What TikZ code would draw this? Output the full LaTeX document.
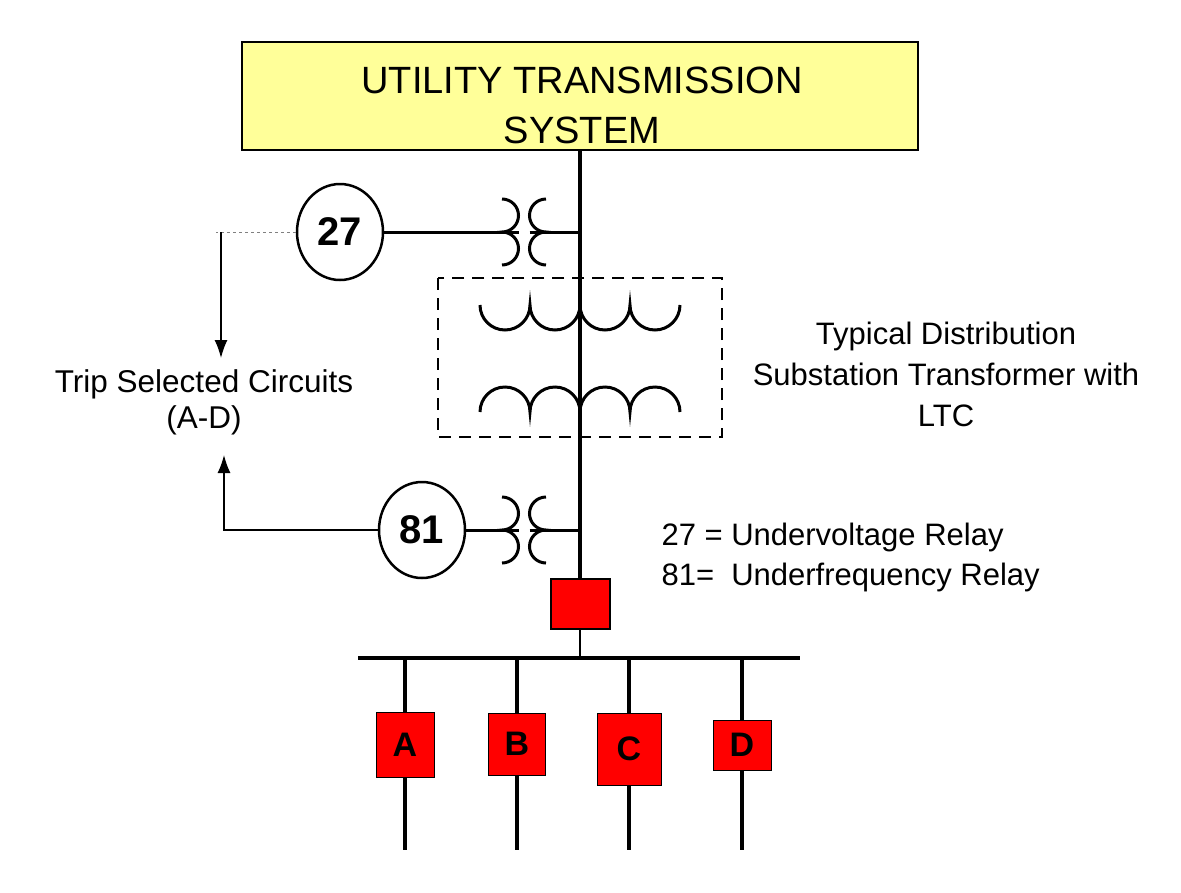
\documentclass[tikz,border=0pt]{standalone}
\usepackage{fontspec}
\setmainfont{Liberation Sans}
\usetikzlibrary{shapes.geometric,arrows.meta}
\begin{document}
\begin{tikzpicture}[x=1pt,y=-1pt,
  thick line/.style={line width=3.5pt},
  relay/.style={draw,line width=2.5pt,ellipse,minimum width=86pt,minimum height=96pt,inner sep=0pt,font=\fontsize{40}{40}\selectfont\bfseries},
  brk/.style={draw,line width=2pt,fill=red,inner sep=0pt},
  lbl/.style={font=\fontsize{31.5}{36}\selectfont,align=center},
  coil/.style={line width=3pt}]
\path[use as bounding box] (0,0) rectangle (1181,892);
\node[draw,line width=1.5pt,fill={rgb,255:red,255;green,255;blue,153},minimum width=676pt,minimum height=108pt] (uts) at (580,96) {};
\node[align=center,font=\fontsize{38}{50}\selectfont] (utst) at (582,105) {UTILITY TRANSMISSION\\SYSTEM};
% dashed box
\draw[line width=2pt,dash pattern=on 12pt off 8pt] (438,278) rectangle (722,437);
% main line
\coordinate (brtop) at (580,578);
\draw[thick line] (uts.south) -- (brtop);
% transformer coils
\draw[coil] (480,305) arc[start angle=180,end angle=0,radius=25] arc[start angle=180,end angle=0,radius=25] arc[start angle=180,end angle=0,radius=25] arc[start angle=180,end angle=0,radius=25];
\draw[coil] (480,412) arc[start angle=180,end angle=360,radius=25] arc[start angle=180,end angle=360,radius=25] arc[start angle=180,end angle=360,radius=25] arc[start angle=180,end angle=360,radius=25];
% relays
\node[relay] (r27) at (340,232) {27};
\node[relay] (r81) at (422,530) {81};
% CTs
\foreach \y/\r in {232/r27,530/r81}{
  \draw[coil] (502,\y-33) arc[start angle=-90,end angle=90,radius=16.5] arc[start angle=-90,end angle=90,radius=16.5];
  \draw[coil] (546,\y-33) arc[start angle=270,end angle=90,radius=16.5] arc[start angle=270,end angle=90,radius=16.5];
  \draw[line width=3pt] (\r.east) -- (518.5,\y);
  \draw[line width=3pt] (529.5,\y) -- (580,\y);
}
% trip arrows
\coordinate (c27) at (216,232);
\coordinate (a27) at (221,232);
\coordinate (t1) at (221,358);
\coordinate (c81) at (224,530);
\coordinate (t2) at (224,455);
\draw[gray,dashed,line width=0.8pt] (r27.west) -- (c27);
\draw[line width=1.5pt,-{Latex[length=18pt,width=13pt]}] (a27) -- (t1);
\draw[line width=1.5pt,-{Latex[length=18pt,width=13pt]}] (r81.west) -- (c81) -- (t2);
\node[lbl] (trip) at (204,402) {Trip Selected Circuits\\(A-D)};
\node[lbl,font=\fontsize{31}{41}\selectfont] (ttl) at (946,374) {Typical Distribution\\Substation Transformer with\\LTC};
\node[lbl,align=left,anchor=west,font=\fontsize{31}{40}\selectfont] (leg) at (658,557) {27 = Undervoltage Relay\\81= \ Underfrequency Relay};
% breaker and bus
\node[brk,minimum width=59pt,minimum height=50pt,anchor=north] (mb) at (brtop) {};
\coordinate (bt) at (580,658);
\draw[line width=1.2pt] (mb.south) -- (bt);
\coordinate (busL) at (358,658);
\coordinate (busR) at (800,658);
\draw[thick line] (busL) -- (busR);
\foreach \x/\l/\w/\h/\yc in {405/A/58/65/745,517/B/57/62/744,629/C/64/72/749,742/D/58/50/745}{
  \coordinate (f\l) at (\x,658);
  \coordinate (e\l) at (\x,850);
  \draw[thick line] (f\l) -- (e\l);
  \node[brk,line width=1pt,minimum width=\w pt,minimum height=\h pt,font=\fontsize{34}{36}\selectfont\bfseries] (b\l) at (\x,\yc) {\l};
}
\end{tikzpicture}
\end{document}
